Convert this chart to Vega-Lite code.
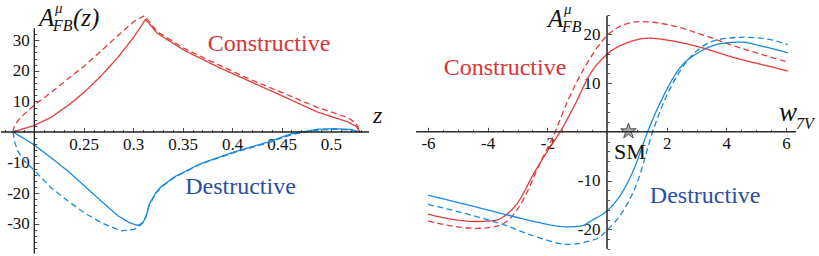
{
"$schema": "https://vega.github.io/schema/vega-lite/v6.json",
"padding": 0,
"spacing": 0,
"bounds": "flush",
"background": "white",
"config": {"view": {"stroke": null}, "axis": {"labelFont": "Liberation Serif", "labelFontSize": 17, "labelColor": "#111", "tickColor": "#222", "tickWidth": 0.8, "domain": false, "grid": false, "title": null, "labelOverlap": false, "labelFlush": false}},
"datasets": {
"L": [
{"z":0.1785,"y":0,"c":"C","d":"s"},{"z":0.19,"y":1.2,"c":"C","d":"s"},{"z":0.199,"y":2.0,"c":"C","d":"s"},{"z":0.2169,"y":4.8,"c":"C","d":"s"},{"z":0.2338,"y":8.6,"c":"C","d":"s"},{"z":0.2506,"y":13.0,"c":"C","d":"s"},{"z":0.2674,"y":18.3,"c":"C","d":"s"},{"z":0.2841,"y":24.2,"c":"C","d":"s"},{"z":0.301,"y":31.2,"c":"C","d":"s"},{"z":0.3125,"y":36.8,"c":"C","d":"s"},{"z":0.3246,"y":32.2,"c":"C","d":"s"},{"z":0.3515,"y":26.7,"c":"C","d":"s"},{"z":0.3853,"y":21.3,"c":"C","d":"s"},{"z":0.419,"y":16.4,"c":"C","d":"s"},{"z":0.4527,"y":11.5,"c":"C","d":"s"},{"z":0.4865,"y":6.5,"c":"C","d":"s"},{"z":0.5169,"y":3.3,"c":"C","d":"s"},{"z":0.5253,"y":1.9,"c":"C","d":"s"},{"z":0.5295,"y":0,"c":"C","d":"s"},
{"z":0.1785,"y":0,"c":"C","d":"d"},{"z":0.1795,"y":1.5,"c":"C","d":"d"},{"z":0.1815,"y":2.8,"c":"C","d":"d"},{"z":0.1866,"y":4.9,"c":"C","d":"d"},{"z":0.199,"y":8.5,"c":"C","d":"d"},{"z":0.2169,"y":12.9,"c":"C","d":"d"},{"z":0.2338,"y":17.3,"c":"C","d":"d"},{"z":0.2506,"y":21.6,"c":"C","d":"d"},{"z":0.2674,"y":26.4,"c":"C","d":"d"},{"z":0.2841,"y":31.4,"c":"C","d":"d"},{"z":0.301,"y":36.2,"c":"C","d":"d"},{"z":0.3115,"y":38.0,"c":"C","d":"d"},{"z":0.3246,"y":32.7,"c":"C","d":"d"},{"z":0.3515,"y":27.3,"c":"C","d":"d"},{"z":0.3853,"y":22.1,"c":"C","d":"d"},{"z":0.419,"y":17.1,"c":"C","d":"d"},{"z":0.4527,"y":12.6,"c":"C","d":"d"},{"z":0.4865,"y":8.0,"c":"C","d":"d"},{"z":0.5169,"y":4.7,"c":"C","d":"d"},{"z":0.5253,"y":2.9,"c":"C","d":"d"},{"z":0.5295,"y":0,"c":"C","d":"d"},
{"z":0.1785,"y":0,"c":"D","d":"s"},{"z":0.199,"y":-4.0,"c":"D","d":"s"},{"z":0.2169,"y":-8.4,"c":"D","d":"s"},{"z":0.2338,"y":-12.7,"c":"D","d":"s"},{"z":0.2506,"y":-17.6,"c":"D","d":"s"},{"z":0.2674,"y":-22.5,"c":"D","d":"s"},{"z":0.2843,"y":-27.3,"c":"D","d":"s"},{"z":0.296,"y":-29.6,"c":"D","d":"s"},{"z":0.3043,"y":-30.5,"c":"D","d":"s"},{"z":0.3095,"y":-29.8,"c":"D","d":"s"},{"z":0.3129,"y":-27.8,"c":"D","d":"s"},{"z":0.3163,"y":-23.6,"c":"D","d":"s"},{"z":0.323,"y":-19.8,"c":"D","d":"s"},{"z":0.3281,"y":-17.9,"c":"D","d":"s"},{"z":0.3415,"y":-14.7,"c":"D","d":"s"},{"z":0.3685,"y":-10.3,"c":"D","d":"s"},{"z":0.4022,"y":-6.5,"c":"D","d":"s"},{"z":0.436,"y":-3.3,"c":"D","d":"s"},{"z":0.4595,"y":-0.6,"c":"D","d":"s"},{"z":0.4865,"y":0.9,"c":"D","d":"s"},{"z":0.5034,"y":1.1,"c":"D","d":"s"},{"z":0.5203,"y":0.8,"c":"D","d":"s"},{"z":0.5295,"y":0,"c":"D","d":"s"},
{"z":0.1785,"y":0,"c":"D","d":"d"},{"z":0.1798,"y":-2.9,"c":"D","d":"d"},{"z":0.1832,"y":-6.2,"c":"D","d":"d"},{"z":0.1899,"y":-9.5,"c":"D","d":"d"},{"z":0.199,"y":-12.2,"c":"D","d":"d"},{"z":0.2169,"y":-18.2,"c":"D","d":"d"},{"z":0.2338,"y":-22.5,"c":"D","d":"d"},{"z":0.2506,"y":-26.4,"c":"D","d":"d"},{"z":0.2674,"y":-29.6,"c":"D","d":"d"},{"z":0.2875,"y":-32.3,"c":"D","d":"d"},{"z":0.301,"y":-31.8,"c":"D","d":"d"},{"z":0.3079,"y":-30.3,"c":"D","d":"d"},{"z":0.3129,"y":-27.6,"c":"D","d":"d"},{"z":0.3163,"y":-23.8,"c":"D","d":"d"},{"z":0.323,"y":-20.0,"c":"D","d":"d"},{"z":0.3281,"y":-18.1,"c":"D","d":"d"},{"z":0.3415,"y":-14.9,"c":"D","d":"d"},{"z":0.3685,"y":-10.4,"c":"D","d":"d"},{"z":0.4022,"y":-6.7,"c":"D","d":"d"},{"z":0.436,"y":-3.6,"c":"D","d":"d"},{"z":0.4595,"y":-0.9,"c":"D","d":"d"},{"z":0.4865,"y":0.6,"c":"D","d":"d"},{"z":0.5034,"y":0.9,"c":"D","d":"d"},{"z":0.5203,"y":0.6,"c":"D","d":"d"},{"z":0.5295,"y":0,"c":"D","d":"d"}
],
"R": [
{"w":-6,"y":-16.9,"c":"C","d":"s"},{"w":-5.23,"y":-17.9,"c":"C","d":"s"},{"w":-4.39,"y":-18.4,"c":"C","d":"s"},{"w":-3.78,"y":-18.2,"c":"C","d":"s"},{"w":-3.44,"y":-17.3,"c":"C","d":"s"},{"w":-2.99,"y":-14.5,"c":"C","d":"s"},{"w":-2.44,"y":-8.4,"c":"C","d":"s"},{"w":-1.99,"y":-3.9,"c":"C","d":"s"},{"w":-1.57,"y":0,"c":"C","d":"s"},{"w":-1.1,"y":5.3,"c":"C","d":"s"},{"w":-0.54,"y":12.1,"c":"C","d":"s"},{"w":0,"y":15.9,"c":"C","d":"s"},{"w":0.69,"y":18.3,"c":"C","d":"s"},{"w":1.42,"y":19.2,"c":"C","d":"s"},{"w":2.03,"y":18.8,"c":"C","d":"s"},{"w":3.15,"y":17.3,"c":"C","d":"s"},{"w":4.27,"y":15.2,"c":"C","d":"s"},{"w":5.39,"y":13.5,"c":"C","d":"s"},{"w":6.06,"y":12.5,"c":"C","d":"s"},
{"w":-6,"y":-18.3,"c":"C","d":"d"},{"w":-5.23,"y":-19.3,"c":"C","d":"d"},{"w":-4.34,"y":-19.8,"c":"C","d":"d"},{"w":-3.66,"y":-19.3,"c":"C","d":"d"},{"w":-3.22,"y":-17.6,"c":"C","d":"d"},{"w":-2.77,"y":-13.5,"c":"C","d":"d"},{"w":-2.32,"y":-7.4,"c":"C","d":"d"},{"w":-1.74,"y":0,"c":"C","d":"d"},{"w":-1.32,"y":6.3,"c":"C","d":"d"},{"w":-0.76,"y":13.1,"c":"C","d":"d"},{"w":0,"y":19.7,"c":"C","d":"d"},{"w":0.58,"y":22.0,"c":"C","d":"d"},{"w":1.14,"y":22.6,"c":"C","d":"d"},{"w":2.03,"y":22.0,"c":"C","d":"d"},{"w":3.15,"y":20.0,"c":"C","d":"d"},{"w":4.27,"y":17.6,"c":"C","d":"d"},{"w":5.39,"y":15.5,"c":"C","d":"d"},{"w":6.06,"y":14.3,"c":"C","d":"d"},
{"w":-6,"y":-13.0,"c":"D","d":"s"},{"w":-4.67,"y":-15.0,"c":"D","d":"s"},{"w":-3.44,"y":-16.9,"c":"D","d":"s"},{"w":-2.44,"y":-18.4,"c":"D","d":"s"},{"w":-1.32,"y":-19.5,"c":"D","d":"s"},{"w":-0.87,"y":-19.3,"c":"D","d":"s"},{"w":-0.43,"y":-17.9,"c":"D","d":"s"},{"w":0,"y":-16.2,"c":"D","d":"s"},{"w":0.47,"y":-12.8,"c":"D","d":"s"},{"w":0.92,"y":-7.4,"c":"D","d":"s"},{"w":1.36,"y":0,"c":"D","d":"s"},{"w":1.81,"y":6.3,"c":"D","d":"s"},{"w":2.37,"y":12.5,"c":"D","d":"s"},{"w":3.2,"y":16.7,"c":"D","d":"s"},{"w":3.82,"y":18.1,"c":"D","d":"s"},{"w":4.49,"y":18.4,"c":"D","d":"s"},{"w":5.16,"y":17.6,"c":"D","d":"s"},{"w":6.06,"y":16.2,"c":"D","d":"s"},
{"w":-6,"y":-14.9,"c":"D","d":"d"},{"w":-4.67,"y":-16.9,"c":"D","d":"d"},{"w":-3.44,"y":-19.1,"c":"D","d":"d"},{"w":-2.44,"y":-21.4,"c":"D","d":"d"},{"w":-1.26,"y":-23.1,"c":"D","d":"d"},{"w":-0.65,"y":-22.5,"c":"D","d":"d"},{"w":-0.2,"y":-21.4,"c":"D","d":"d"},{"w":0,"y":-20.2,"c":"D","d":"d"},{"w":0.47,"y":-16.9,"c":"D","d":"d"},{"w":1.03,"y":-10.1,"c":"D","d":"d"},{"w":1.53,"y":0,"c":"D","d":"d"},{"w":1.92,"y":6.3,"c":"D","d":"d"},{"w":2.48,"y":12.8,"c":"D","d":"d"},{"w":3.15,"y":17.3,"c":"D","d":"d"},{"w":3.82,"y":19.0,"c":"D","d":"d"},{"w":4.6,"y":19.4,"c":"D","d":"d"},{"w":5.39,"y":19.0,"c":"D","d":"d"},{"w":6.06,"y":17.9,"c":"D","d":"d"}
]
},
"hconcat": [
{
"width": 400, "height": 256,
"resolve": {"axis": {"x": "independent", "y": "independent"}},
"layer": [
{"layer": [
{"data": {"name": "L"}, "mark": {"type": "line", "strokeWidth": 1.3, "clip": false},
 "encoding": {
  "x": {"field": "z", "type": "quantitative", "scale": {"domain": [0.16633, 0.57078], "nice": false, "zero": false},
   "axis": {"orient": "bottom", "offset": -125, "values": [0.25,0.3,0.35,0.4,0.45,0.5], "ticks": false, "labelOverlap": false, "labelExpr": "''+datum.value", "labelPadding": 4, "labelFont": "Liberation Serif", "labelFontSize": 17}},
  "y": {"field": "y", "type": "quantitative", "scale": {"domain": [-40.85, 42.81], "nice": false, "zero": false},
   "axis": {"orient": "left", "offset": -33.3, "values": [-30,-20,-10,10,20,30], "ticks": false, "labelOverlap": false, "labelExpr": "''+datum.value", "labelPadding": 5, "labelFont": "Liberation Serif", "labelFontSize": 17}},
  "color": {"field": "c", "type": "nominal", "scale": {"domain": ["C", "D"], "range": ["#e33b3b", "#1a8ad8"]}, "legend": null},
  "strokeDash": {"field": "d", "type": "nominal", "scale": {"domain": ["s", "d"], "range": [[1, 0], [6, 3.5]]}, "legend": null}
 }},
{"data": {"values": [{}]}, "mark": {"type": "text", "text": "Constructive", "font": "Liberation Serif", "fontSize": 24, "color": "#d9343a", "align": "center", "baseline": "alphabetic"}, "encoding": {"x": {"datum": 0.4373, "type": "quantitative"}, "y": {"datum": 26.5, "type": "quantitative"}}},
{"data": {"values": [{}]}, "mark": {"type": "text", "text": "Destructive", "font": "Liberation Serif", "fontSize": 24, "color": "#2b4ea2", "align": "center", "baseline": "alphabetic"}, "encoding": {"x": {"datum": 0.4085, "type": "quantitative"}, "y": {"datum": -20.3, "type": "quantitative"}}},
{"data": {"values": [{}]}, "mark": {"type": "text", "text": "A", "font": "Liberation Serif", "fontStyle": "italic", "fontSize": 25, "color": "#111", "align": "left", "baseline": "alphabetic"}, "encoding": {"x": {"datum": 0.2048, "type": "quantitative"}, "y": {"datum": 34.6, "type": "quantitative"}}},
{"data": {"values": [{}]}, "mark": {"type": "text", "text": "FB", "font": "Liberation Serif", "fontStyle": "italic", "fontSize": 16, "color": "#111", "align": "left", "baseline": "alphabetic"}, "encoding": {"x": {"datum": 0.2189, "type": "quantitative"}, "y": {"datum": 33.0, "type": "quantitative"}}},
{"data": {"values": [{}]}, "mark": {"type": "text", "text": "μ", "font": "Liberation Serif", "fontStyle": "italic", "fontSize": 15, "color": "#111", "align": "left", "baseline": "alphabetic"}, "encoding": {"x": {"datum": 0.2209, "type": "quantitative"}, "y": {"datum": 38.9, "type": "quantitative"}}},
{"data": {"values": [{}]}, "mark": {"type": "text", "text": "(z)", "font": "Liberation Serif", "fontStyle": "italic", "fontSize": 25, "color": "#111", "align": "left", "baseline": "alphabetic"}, "encoding": {"x": {"datum": 0.2391, "type": "quantitative"}, "y": {"datum": 34.6, "type": "quantitative"}}},
{"data": {"values": [{}]}, "mark": {"type": "text", "text": "z", "font": "Liberation Serif", "fontStyle": "italic", "fontSize": 24, "color": "#111", "align": "left", "baseline": "alphabetic"}, "encoding": {"x": {"datum": 0.5424, "type": "quantitative"}, "y": {"datum": 2.9, "type": "quantitative"}}}
]},
{"data": {"values": [{}]}, "mark": {"type": "rule", "color": "#222", "strokeWidth": 1}, "encoding": {
  "x": {"datum": 0.16633, "type": "quantitative", "axis": {"orient": "top", "offset": -131, "values": [0.25,0.3,0.35,0.4,0.45,0.5], "labels": false, "tickSize": 4.5}},
  "x2": {"datum": 0.5384}, "y": {"datum": 0, "type": "quantitative", "axis": null}}},
{"data": {"values": [{}]}, "mark": {"type": "rule", "color": "#222", "strokeWidth": 1}, "encoding": {
  "x": {"datum": 0.16633, "type": "quantitative", "axis": {"orient": "top", "offset": -131, "values": [0.17,0.18,0.19,0.21,0.22,0.23,0.24,0.26,0.27,0.28,0.29,0.31,0.32,0.33,0.34,0.36,0.37,0.38,0.39,0.41,0.42,0.43,0.44,0.46,0.47,0.48,0.49,0.51,0.52,0.53], "labels": false, "tickSize": 2.5}},
  "x2": {"datum": 0.5384}, "y": {"datum": 0, "type": "quantitative", "axis": null}}},
{"data": {"values": [{}]}, "mark": {"type": "rule", "color": "#222", "strokeWidth": 1}, "encoding": {
  "x": {"datum": 0.2, "type": "quantitative", "axis": null},
  "y": {"datum": -39.7, "type": "quantitative", "axis": {"orient": "right", "offset": -366.7, "values": [-30,-20,-10,10,20,30], "labels": false, "tickSize": 4.5}}, "y2": {"datum": 33.9}}},
{"data": {"values": [{}]}, "mark": {"type": "rule", "color": "#222", "strokeWidth": 1}, "encoding": {
  "x": {"datum": 0.2, "type": "quantitative", "axis": null},
  "y": {"datum": -39.7, "type": "quantitative", "axis": {"orient": "right", "offset": -366.7, "values": [-38,-36,-34,-32,-28,-26,-24,-22,-18,-16,-14,-12,-8,-6,-4,-2,2,4,6,8,12,14,16,18,22,24,26,28,32], "labels": false, "tickSize": 2.5}}, "y2": {"datum": 33.9}}}
]
},
{
"width": 419, "height": 256,
"resolve": {"axis": {"x": "independent", "y": "independent"}},
"layer": [
{"layer": [
{"data": {"name": "R"}, "mark": {"type": "line", "strokeWidth": 1.3, "interpolate": "monotone", "clip": false},
 "encoding": {
  "x": {"field": "w", "type": "quantitative", "scale": {"domain": [-6.906, 7.14], "nice": false, "zero": false},
   "axis": {"orient": "bottom", "offset": -125.19, "values": [-6,-4,-2,2,4,6], "ticks": false, "labelOverlap": false, "labelExpr": "''+datum.value", "labelPadding": 4, "labelFont": "Liberation Serif", "labelFontSize": 17}},
  "y": {"field": "y", "type": "quantitative", "scale": {"domain": [-25.68, 26.83], "nice": false, "zero": false},
   "axis": {"orient": "left", "offset": -206, "values": [-20,-10,10,20], "ticks": false, "labelOverlap": false, "labelExpr": "''+datum.value", "labelPadding": 7, "labelFont": "Liberation Serif", "labelFontSize": 17}},
  "color": {"field": "c", "type": "nominal", "scale": {"domain": ["C", "D"], "range": ["#e33b3b", "#1a8ad8"]}, "legend": null},
  "strokeDash": {"field": "d", "type": "nominal", "scale": {"domain": ["s", "d"], "range": [[1, 0], [6, 3.5]]}, "legend": null}
 }},
{"data": {"values": [{}]}, "mark": {"type": "point", "shape": "M0,-1L0.2245,-0.309L0.951,-0.309L0.363,0.118L0.588,0.809L0,0.382L-0.588,0.809L-0.363,0.118L-0.951,-0.309L-0.2245,-0.309Z", "size": 270, "filled": true, "fill": "#aaaaaa", "stroke": "#333", "strokeWidth": 0.8, "opacity": 1}, "encoding": {"x": {"datum": 0.72, "type": "quantitative"}, "y": {"datum": 0.1, "type": "quantitative"}}},
{"data": {"values": [{}]}, "mark": {"type": "text", "text": "SM", "font": "Liberation Serif", "fontSize": 22, "color": "#111", "align": "center", "baseline": "alphabetic"}, "encoding": {"x": {"datum": 0.77, "type": "quantitative"}, "y": {"datum": -5.6, "type": "quantitative"}}},
{"data": {"values": [{}]}, "mark": {"type": "text", "text": "Constructive", "font": "Liberation Serif", "fontSize": 24, "color": "#d9343a", "align": "center", "baseline": "alphabetic"}, "encoding": {"x": {"datum": -3.42, "type": "quantitative"}, "y": {"datum": 11.65, "type": "quantitative"}}},
{"data": {"values": [{}]}, "mark": {"type": "text", "text": "Destructive", "font": "Liberation Serif", "fontSize": 24, "color": "#2b4ea2", "align": "center", "baseline": "alphabetic"}, "encoding": {"x": {"datum": 3.29, "type": "quantitative"}, "y": {"datum": -14.6, "type": "quantitative"}}},
{"data": {"values": [{}]}, "mark": {"type": "text", "text": "A", "font": "Liberation Serif", "fontStyle": "italic", "fontSize": 25, "color": "#111", "align": "left", "baseline": "alphabetic"}, "encoding": {"x": {"datum": -1.978, "type": "quantitative"}, "y": {"datum": 21.5, "type": "quantitative"}}},
{"data": {"values": [{}]}, "mark": {"type": "text", "text": "FB", "font": "Liberation Serif", "fontStyle": "italic", "fontSize": 16, "color": "#111", "align": "left", "baseline": "alphabetic"}, "encoding": {"x": {"datum": -1.509, "type": "quantitative"}, "y": {"datum": 20.5, "type": "quantitative"}}},
{"data": {"values": [{}]}, "mark": {"type": "text", "text": "μ", "font": "Liberation Serif", "fontStyle": "italic", "fontSize": 15, "color": "#111", "align": "left", "baseline": "alphabetic"}, "encoding": {"x": {"datum": -1.442, "type": "quantitative"}, "y": {"datum": 24.2, "type": "quantitative"}}},
{"data": {"values": [{}]}, "mark": {"type": "text", "text": "w", "font": "Liberation Serif", "fontStyle": "italic", "fontSize": 27, "color": "#111", "align": "left", "baseline": "alphabetic"}, "encoding": {"x": {"datum": 5.766, "type": "quantitative"}, "y": {"datum": 2.2, "type": "quantitative"}}},
{"data": {"values": [{}]}, "mark": {"type": "text", "text": "7V", "font": "Liberation Serif", "fontStyle": "italic", "fontSize": 16, "color": "#111", "align": "left", "baseline": "alphabetic"}, "encoding": {"x": {"datum": 6.336, "type": "quantitative"}, "y": {"datum": 0.57, "type": "quantitative"}}}
]},
{"data": {"values": [{}]}, "mark": {"type": "rule", "color": "#222", "strokeWidth": 1}, "encoding": {
  "x": {"datum": -6.4, "type": "quantitative", "axis": {"orient": "top", "offset": -130.81, "values": [-6,-4,-2,2,4,6], "labels": false, "tickSize": 4.5}},
  "x2": {"datum": 6.34}, "y": {"datum": 0, "type": "quantitative", "axis": null}}},
{"data": {"values": [{}]}, "mark": {"type": "rule", "color": "#222", "strokeWidth": 1}, "encoding": {
  "x": {"datum": -6.4, "type": "quantitative", "axis": {"orient": "top", "offset": -130.81, "values": [-5.5,-5,-4.5,-3.5,-3,-2.5,-1.5,-1,-0.5,0.5,1,1.5,2.5,3,3.5,4.5,5,5.5], "labels": false, "tickSize": 2.5}},
  "x2": {"datum": 6.34}, "y": {"datum": 0, "type": "quantitative", "axis": null}}},
{"data": {"values": [{}]}, "mark": {"type": "rule", "color": "#222", "strokeWidth": 1}, "encoding": {
  "x": {"datum": 0, "type": "quantitative", "axis": null},
  "y": {"datum": -24.0, "type": "quantitative", "axis": {"orient": "right", "offset": -213, "values": [-20,-10,10,20], "labels": false, "tickSize": 4.5}}, "y2": {"datum": 23.8}}},
{"data": {"values": [{}]}, "mark": {"type": "rule", "color": "#222", "strokeWidth": 1}, "encoding": {
  "x": {"datum": 0, "type": "quantitative", "axis": null},
  "y": {"datum": -24.0, "type": "quantitative", "axis": {"orient": "right", "offset": -213, "values": [-24,-22,-18,-16,-14,-12,-8,-6,-4,-2,2,4,6,8,12,14,16,18,22,24], "labels": false, "tickSize": 2.5}}, "y2": {"datum": 23.8}}}
]
}
]
}
